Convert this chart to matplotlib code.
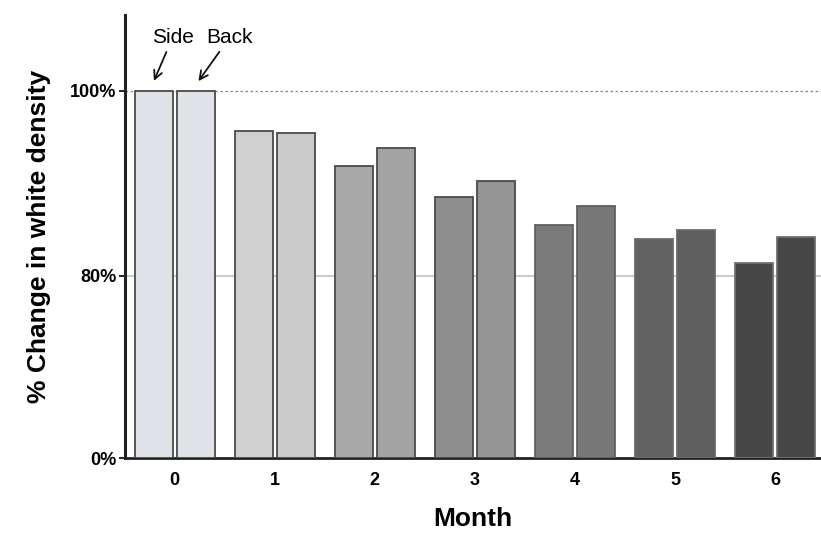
import numpy as np
import matplotlib.pyplot as plt

months = [0, 1, 2, 3, 4, 5, 6]
side = [100.0, 95.7, 91.9, 88.5, 85.5, 84.0, 81.4]
back = [100.0, 95.4, 93.8, 90.3, 87.5, 84.9, 84.2]
side_colors = ['#dfe2e6', '#d0d0d0', '#a9a9a9', '#8e8e8e', '#7a7a7a', '#626262', '#474747']
back_colors = ['#dfe2e6', '#cbcbcb', '#a3a3a3', '#959595', '#777777', '#5f5f5f', '#474747']
yticks = [0, 80, 100]
ytick_labels = ['0%', '80%', '100%']

plt.rcParams['font.family'] = ['Liberation Sans', 'DejaVu Sans']

# segmented y axis: 0-80 squeezed, 80-100 stretched
K = 19.7


def fwd(v):
    v = np.asarray(v, dtype=float)
    return np.where(v <= 80, v * K / 80, K + (v - 80))


def inv(u):
    u = np.asarray(u, dtype=float)
    return np.where(u <= K, u * 80 / K, 80 + (u - K))


fig = plt.figure(figsize=(8.21, 5.36), dpi=100)
ax = fig.add_axes([0.152, 0.1455, 0.848, 0.8265])
ax.set_yscale('function', functions=(fwd, inv))

x = np.array(months)
w = 0.385
off = 0.21
edges = ['#4a4a4a'] * 4 + ['#606060', '#6a6a6a', '#707070']
ax.bar(x - off, side, width=w, color=side_colors, edgecolor=edges, linewidth=1.3, zorder=3)
ax.bar(x + off, back, width=w, color=back_colors, edgecolor=edges, linewidth=1.3, zorder=3)

ax.axhline(100, color='#888888', linestyle=(0, (2, 2)), linewidth=0.9, zorder=1)
ax.axhline(80, color='#cccccc', linestyle='-', linewidth=1.5, zorder=1)

ax.set_xlim(-0.5, 6.46)
ax.set_ylim(0, 108.2)
ax.set_yticks(yticks)
ax.set_yticklabels(ytick_labels, fontsize=13, fontweight='bold')
ax.set_xticks(months)
ax.set_xticklabels([str(m) for m in months], fontsize=13, fontweight='bold')
ax.yaxis.set_minor_locator(plt.NullLocator())
ax.tick_params(axis='y', length=4, width=1.2, direction='out', pad=2)
ax.tick_params(axis='x', length=0, pad=10)

for s in ['top', 'right']:
    ax.spines[s].set_visible(False)
ax.spines['left'].set_linewidth(2.2)
ax.spines['bottom'].set_linewidth(2.0)
ax.spines['left'].set_color('#222222')
ax.spines['bottom'].set_color('#222222')

ax.set_xlabel('Month', fontsize=19, fontweight='bold', labelpad=13)
ax.set_ylabel('% Change in white density', fontsize=19, fontweight='bold', labelpad=14)

arrow = dict(arrowstyle='->', color='#111111', lw=1.3)
ax.annotate('Side', xy=(-0.22, 100.8), xytext=(-0.02, 105.8), fontsize=15,
            ha='center', va='center', arrowprops=arrow)
ax.annotate('Back', xy=(0.22, 100.8), xytext=(0.55, 105.8), fontsize=15,
            ha='center', va='center', arrowprops=arrow)

fig.savefig('out.png', dpi=100)
